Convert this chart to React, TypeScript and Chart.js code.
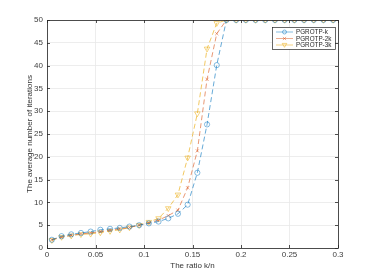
import React, { useEffect, useRef } from "react";
import { Chart, registerables } from "chart.js";
Chart.register(...registerables);

const xValues = [0.005, 0.015, 0.025, 0.035, 0.045, 0.055, 0.065, 0.075, 0.085, 0.095, 0.105, 0.115, 0.125, 0.135, 0.145, 0.155, 0.165, 0.175, 0.185, 0.195, 0.205, 0.215, 0.225, 0.235, 0.245, 0.255, 0.265, 0.275, 0.285, 0.295];
const seriesK = [1.8, 2.6, 3.0, 3.3, 3.6, 4.0, 4.2, 4.4, 4.7, 5.0, 5.4, 5.8, 6.5, 7.5, 9.5, 16.5, 27.1, 40.1, 50, 50, 50, 50, 50, 50, 50, 50, 50, 50, 50, 50];
const series2K = [1.8, 2.4, 2.8, 3.1, 3.3, 3.6, 3.9, 4.2, 4.5, 5.0, 5.5, 6.1, 7.1, 8.3, 13.2, 21.3, 37.0, 47.0, 50, 50, 50, 50, 50, 50, 50, 50, 50, 50, 50, 50];
const series3K = [1.7, 2.4, 2.7, 3.0, 3.1, 3.4, 3.7, 4.0, 4.5, 5.0, 5.7, 6.5, 8.7, 11.7, 19.8, 29.5, 43.7, 49.3, 50, 50, 50, 50, 50, 50, 50, 50, 50, 50, 50, 50];
const labels = ["PGROTP-k", "PGROTP-2k", "PGROTP-3k"];
const colors = ["rgba(0,114,189,0.6)", "rgba(217,83,25,0.6)", "rgba(237,177,32,0.7)"];
const xTitle = "The ratio k/n";
const yTitle = "The average number of iterations";

const FONT = "Liberation Sans, Arial, sans-serif";

const boxPlugin = {
  id: "boxPlugin",
  afterDraw(chart: any) {
    const { ctx, chartArea: a, scales } = chart;
    ctx.save();
    ctx.strokeStyle = "#262626";
    ctx.lineWidth = 0.8;
    const xs = scales.x, ys = scales.y;
    ctx.beginPath();
    xs.ticks.forEach((t: any) => {
      const px = Math.round(xs.getPixelForValue(t.value)) + 0.5;
      ctx.moveTo(px, a.top); ctx.lineTo(px, a.top + 3);
      ctx.moveTo(px, a.bottom); ctx.lineTo(px, a.bottom - 3);
    });
    ys.ticks.forEach((t: any) => {
      const py = Math.round(ys.getPixelForValue(t.value)) + 0.5;
      ctx.moveTo(a.left, py); ctx.lineTo(a.left + 3, py);
      ctx.moveTo(a.right, py); ctx.lineTo(a.right - 3, py);
    });
    ctx.stroke();
    ctx.strokeRect(Math.round(a.left) + 0.5, Math.round(a.top) + 0.5, Math.round(a.right - a.left), Math.round(a.bottom - a.top));

    // legend
    const lx = 272, ly = 27, lw = 63, lh = 22;
    ctx.fillStyle = "#ffffff";
    ctx.fillRect(lx, ly, lw, lh);
    ctx.strokeStyle = "#262626";
    ctx.lineWidth = 0.7;
    ctx.strokeRect(lx + 0.5, ly + 0.5, lw, lh);
    ctx.font = "6.3px " + FONT;
    ctx.textBaseline = "middle";
    chart.data.datasets.forEach((ds: any, i: number) => {
      const cy = ly + 5 + i * 6.5;
      ctx.strokeStyle = ds.borderColor;
      ctx.lineWidth = 0.8;
      ctx.beginPath();
      ctx.moveTo(lx + 4, cy); ctx.lineTo(lx + 21, cy);
      ctx.stroke();
      const mx = lx + 12.5;
      ctx.beginPath();
      if (i === 0) {
        ctx.arc(mx, cy, 2, 0, Math.PI * 2);
      } else if (i === 1) {
        ctx.moveTo(mx - 1.6, cy - 1.6); ctx.lineTo(mx + 1.6, cy + 1.6);
        ctx.moveTo(mx + 1.6, cy - 1.6); ctx.lineTo(mx - 1.6, cy + 1.6);
      } else {
        ctx.moveTo(mx - 2.3, cy - 1.6); ctx.lineTo(mx + 2.3, cy - 1.6); ctx.lineTo(mx, cy + 2.3); ctx.closePath();
      }
      ctx.stroke();
      ctx.fillStyle = "#262626";
      ctx.fillText(ds.label, lx + 24, cy + 0.5);
    });
    ctx.restore();
  },
};

export default function App() {
  const ref = useRef<HTMLCanvasElement>(null);
  useEffect(() => {
    document.body.style.margin = "0";
    const mk = (ys: number[]) => xValues.map((x, i) => ({ x, y: ys[i] }));
    const chart = new Chart(ref.current!, {
      type: "line",
      data: {
        datasets: [
          { label: labels[0], data: mk(seriesK), borderColor: colors[0], backgroundColor: "rgba(0,0,0,0)", borderWidth: 1, borderDash: [5, 3], pointStyle: "circle", pointRadius: 2.6, pointBorderWidth: 0.8, pointBorderColor: colors[0] },
          { label: labels[1], data: mk(series2K), borderColor: colors[1], backgroundColor: "rgba(0,0,0,0)", borderWidth: 1, borderDash: [5, 3], pointStyle: "crossRot", pointRadius: 2.3, pointBorderWidth: 0.8, pointBorderColor: colors[1] },
          { label: labels[2], data: mk(series3K), borderColor: colors[2], backgroundColor: "rgba(0,0,0,0)", borderWidth: 1, borderDash: [5, 3], pointStyle: "triangle", pointRotation: 180, pointRadius: 3.2, pointBorderWidth: 0.8, pointBorderColor: colors[2] },
        ],
      },
      options: {
        animation: false,
        responsive: false,
        maintainAspectRatio: false,
        layout: { padding: { top: 20, right: 36, left: 25, bottom: 9 } },
        plugins: { legend: { display: false }, tooltip: { enabled: false } },
        scales: {
          x: {
            type: "linear", min: 0, max: 0.3,
            afterFit: (s: any) => { s.height = 23; },
            ticks: { stepSize: 0.05, color: "#404040", font: { size: 8, family: FONT }, padding: 2, maxRotation: 0, callback: (v: any) => String(Math.round(Number(v) * 100) / 100) },
            grid: { color: "#e8e8e8", lineWidth: 0.8, drawTicks: false },
            border: { display: false },
            title: { display: true, text: xTitle, color: "#333333", font: { size: 8, family: FONT }, padding: { top: 2, bottom: 0 } },
          },
          y: {
            min: 0, max: 50,
            afterFit: (s: any) => { s.width = 22; },
            ticks: { stepSize: 5, color: "#404040", font: { size: 8, family: FONT }, padding: 4 },
            grid: { color: "#e8e8e8", lineWidth: 0.8, drawTicks: false },
            border: { display: false },
            title: { display: true, text: yTitle, color: "#333333", font: { size: 8, family: FONT }, padding: { top: 0, bottom: 2 } },
          },
        },
      },
      plugins: [boxPlugin],
    } as any);
    return () => chart.destroy();
  }, []);
  return (
    <div style={{ position: "fixed", left: 0, top: 0, width: 374, height: 280, background: "#fff" }}>
      <canvas ref={ref} width={374} height={280} style={{ width: 374, height: 280 }} />
    </div>
  );
}
